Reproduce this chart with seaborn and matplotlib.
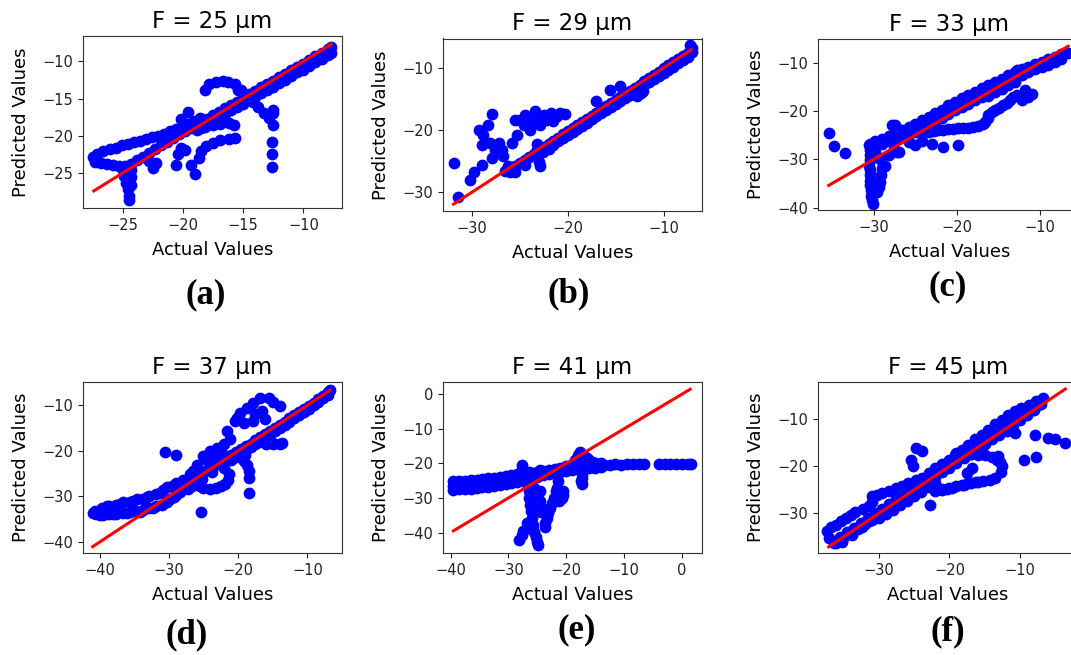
import matplotlib
matplotlib.use("Agg")
import matplotlib.pyplot as plt
import seaborn as sns

# ---------------- data ----------------
titles = ["F = 25 µm", "F = 29 µm", "F = 33 µm", "F = 37 µm", "F = 41 µm", "F = 45 µm"]
tags = ["(a)", "(b)", "(c)", "(d)", "(e)", "(f)"]
x_label = "Actual Values"
y_label = "Predicted Values"

a_points = [
    # upper arm of the loop
    (-27.5, -22.9), (-27.1, -22.4), (-26.6, -22.1), (-26.1, -21.8), (-25.6, -21.6), (-25.1, -21.3),
    (-24.6, -21.1), (-24.1, -20.9), (-23.6, -20.7), (-23.1, -20.4), (-22.6, -20.2), (-22.1, -20.0),
    (-21.6, -19.7), (-21.1, -19.4), (-20.6, -19.1), (-20.1, -18.8), (-19.6, -18.4), (-19.1, -18.0),
    (-18.6, -17.6),
    # lower arm
    (-27.3, -23.5), (-26.8, -23.7), (-26.3, -23.8), (-25.8, -23.9), (-25.3, -24.0), (-24.8, -24.0),
    # loop diagonal
    (-24.3, -23.8), (-23.8, -23.3), (-23.3, -22.8), (-22.8, -22.3), (-22.3, -21.8), (-21.8, -21.3),
    (-21.3, -20.8), (-20.8, -20.3), (-20.3, -19.8), (-19.8, -19.4), (-19.3, -19.0),
    # main band, upper row
    (-18.5, -18.2), (-18.0, -17.7), (-17.5, -17.2), (-17.0, -16.8), (-16.5, -16.3), (-16.0, -15.8),
    (-15.5, -15.4), (-15.0, -14.9), (-14.5, -14.4), (-14.0, -14.0), (-13.5, -13.5), (-13.0, -13.0),
    (-12.5, -12.6), (-12.0, -12.1), (-11.5, -11.7), (-11.0, -11.2), (-10.5, -10.7), (-10.0, -10.3),
    (-9.5, -9.8), (-9.0, -9.3), (-8.5, -8.9), (-8.0, -8.4), (-7.7, -8.1),
    # main band, lower row
    (-18.5, -19.0), (-18.0, -18.5), (-17.5, -18.0), (-17.0, -17.6), (-16.5, -17.1), (-16.0, -16.6),
    (-15.5, -16.2), (-15.0, -15.7), (-14.5, -15.2), (-14.0, -14.8), (-13.5, -14.3), (-13.0, -13.8),
    (-12.5, -13.4), (-12.0, -12.9), (-11.5, -12.5), (-11.0, -12.0), (-10.5, -11.5), (-10.0, -11.1),
    (-9.5, -10.6), (-9.0, -10.1), (-8.5, -9.7), (-8.0, -9.2), (-7.7, -8.9),
    # drop near -24.5
    (-25.0, -24.6), (-24.9, -25.4), (-24.7, -26.3), (-24.6, -27.2), (-24.5, -28.1), (-24.45, -28.6),
    (-24.3, -24.6), (-24.3, -25.6), (-24.3, -26.6),
    # small clusters
    (-22.8, -23.4), (-22.5, -24.3), (-22.2, -23.7), (-20.4, -22.5), (-20.2, -21.7), (-19.8, -21.9),
    (-20.6, -23.9), (-19.3, -23.9), (-19.0, -25.1), (-19.6, -16.8), (-20.2, -17.8),
    # top arc
    (-18.2, -13.8), (-17.8, -13.1), (-17.3, -12.8), (-16.7, -12.6), (-16.3, -12.8), (-15.7, -13.1),
    (-15.4, -13.8),
    # middle arc
    (-18.8, -19.2), (-18.2, -18.8), (-17.5, -18.5), (-16.9, -18.4), (-16.2, -18.3), (-15.8, -18.5),
    # lower arc
    (-18.7, -23.0), (-18.5, -22.1), (-18.1, -21.4), (-17.5, -21.0), (-16.9, -20.6), (-16.2, -20.4),
    (-15.7, -20.3),
    # right descending branch
    (-15.2, -13.9), (-14.6, -14.5), (-14.2, -15.4), (-13.8, -16.1), (-13.3, -16.9), (-12.9, -17.6),
    (-12.5, -18.5),
    # column near -12.5
    (-12.6, -13.5), (-12.5, -16.5), (-12.5, -17.0), (-12.6, -20.8), (-12.6, -22.5), (-12.6, -24.2),
]

b_points = [
    # scattered on the left
    (-31.9, -25.3), (-31.4, -30.8), (-30.2, -28.0), (-29.8, -26.8), (-28.9, -25.6), (-29.2, -20.0),
    (-28.8, -20.8), (-28.3, -19.2), (-27.9, -17.4), (-28.9, -22.4), (-28.1, -22.1), (-27.2, -22.1),
    (-27.6, -23.2), (-26.9, -23.2), (-27.9, -24.5), (-26.7, -24.2), (-26.2, -25.8), (-26.0, -26.8),
    (-25.8, -22.1), (-25.3, -20.8), (-25.5, -18.4), (-25.0, -18.4), (-24.4, -17.6), (-24.6, -19.2),
    (-23.9, -20.0), (-23.4, -17.0), (-23.0, -17.8), (-22.9, -19.2), (-22.5, -17.6), (-22.2, -18.4),
    (-21.7, -17.3), (-21.1, -17.8), (-20.8, -17.3), (-20.3, -17.5), (-21.5, -18.6), (-23.6, -18.6),
    # blob near -23
    (-23.2, -22.2), (-23.2, -23.2), (-23.1, -24.2), (-23.0, -25.1), (-22.9, -25.7), (-22.6, -23.6),
    (-22.3, -22.8),
    # main band on the line
    (-26.5, -26.6), (-26.0, -26.3), (-25.5, -25.8), (-25.0, -25.3), (-24.5, -24.8), (-24.0, -24.3),
    (-23.5, -23.8), (-23.0, -23.2), (-22.5, -22.7), (-22.0, -22.2), (-21.5, -21.7), (-21.0, -21.2),
    (-20.5, -20.7), (-20.0, -20.2), (-19.5, -19.7), (-19.0, -19.2), (-18.5, -18.7), (-18.0, -18.2),
    (-17.5, -17.7), (-17.0, -17.2), (-16.5, -16.7), (-16.0, -16.2), (-15.5, -15.7), (-15.0, -15.2),
    (-14.5, -14.7), (-14.0, -14.2), (-13.5, -13.7), (-13.0, -13.2), (-12.5, -12.7), (-12.0, -12.2),
    (-11.5, -11.6), (-11.0, -11.1), (-10.5, -10.6), (-10.0, -10.1), (-9.5, -9.6), (-9.0, -9.1),
    (-8.5, -8.6), (-8.0, -8.1), (-7.5, -7.6), (-7.0, -6.9),
    # row just below the line
    (-25.5, -26.8), (-24.5, -25.6), (-22.0, -23.0), (-21.5, -22.4), (-21.0, -21.8), (-20.5, -21.3),
    (-20.0, -20.8), (-19.5, -20.3), (-19.0, -19.8), (-18.5, -19.3), (-18.0, -18.8), (-17.5, -18.3),
    (-17.0, -17.8), (-16.5, -17.3), (-16.0, -16.8), (-15.5, -16.3), (-15.0, -15.8), (-14.5, -15.3),
    (-14.0, -14.8), (-13.5, -14.3), (-13.0, -13.8), (-12.5, -13.3), (-12.0, -12.8),
    (-11.5, -12.3), (-11.0, -11.8), (-10.5, -11.3), (-10.0, -10.8), (-9.5, -10.3), (-9.0, -9.8),
    (-8.5, -9.3), (-8.0, -8.8), (-7.5, -8.2), (-7.0, -7.5), (-7.2, -6.4),
    # blobs around -14
    (-17.0, -15.4), (-15.6, -13.6), (-14.5, -13.0), (-12.4, -14.1), (-12.8, -14.6), (-13.5, -14.4),
    (-12.2, -13.8),
]

c_points = [
    # outliers on the left
    (-35.4, -24.5), (-34.8, -27.3), (-33.5, -28.7),
    # vertical cluster near -30
    (-30.6, -27.1), (-30.5, -29.2), (-30.6, -31.3), (-30.5, -33.3), (-30.4, -35.4), (-30.3, -37.5),
    (-30.1, -39.2), (-30.5, -28.1), (-30.5, -30.2), (-30.5, -32.3), (-30.4, -34.4), (-30.3, -36.4),
    (-30.2, -38.4), (-29.6, -27.1), (-29.2, -29.9), (-29.0, -31.9), (-29.2, -34.7), (-29.6, -36.8),
    (-28.6, -31.3), (-28.2, -29.2), (-27.6, -27.8), (-27.2, -28.5), (-29.8, -28.5), (-29.1, -33.3),
    (-29.4, -35.8),
    # main band, row 1
    (-30.4, -26.8), (-29.8, -26.3), (-29.0, -25.7), (-28.2, -25.2), (-27.4, -24.7), (-26.6, -24.0),
    (-25.8, -23.3), (-25.0, -22.6), (-24.2, -21.9), (-23.4, -21.2), (-22.6, -20.5), (-21.8, -19.7),
    (-21.0, -18.8), (-20.2, -18.1), (-19.4, -17.4), (-18.6, -16.7), (-17.8, -16.0), (-17.0, -15.3),
    (-16.2, -14.6), (-15.4, -13.9), (-14.6, -13.3), (-13.8, -12.6), (-13.0, -12.0), (-12.2, -11.4),
    (-11.4, -10.8), (-10.6, -10.3), (-9.8, -9.8), (-9.0, -9.3), (-8.2, -8.8), (-7.4, -8.3),
    (-6.6, -7.9),
    # main band, row 2
    (-29.0, -26.8), (-28.2, -26.3), (-27.4, -25.8), (-26.6, -25.1), (-25.8, -24.4), (-25.0, -23.7),
    (-24.2, -23.0), (-23.4, -22.3), (-22.6, -21.6), (-21.8, -20.8), (-21.0, -19.9), (-20.2, -19.2),
    (-19.4, -18.5), (-18.6, -17.8), (-17.8, -17.1), (-17.0, -16.4), (-16.2, -15.7), (-15.4, -15.0),
    (-14.6, -14.4), (-13.8, -13.7), (-13.0, -13.1), (-12.2, -12.5), (-11.4, -11.9), (-10.6, -11.4),
    (-9.8, -10.9), (-9.0, -10.4), (-8.2, -9.9), (-7.4, -9.2),
    # main band, row 3
    (-24.2, -24.1), (-23.4, -23.4), (-22.6, -22.7), (-21.8, -21.5), (-21.0, -20.6), (-20.2, -19.9),
    (-19.4, -19.2), (-18.6, -18.5), (-17.8, -17.8), (-17.0, -17.1), (-16.2, -16.8),
    (-15.4, -16.0), (-14.6, -15.4), (-13.8, -14.7), (-13.0, -14.0),
    # lower band and its rise
    (-23.4, -24.3), (-22.8, -24.1), (-22.2, -24.0), (-21.6, -23.9), (-21.0, -23.8), (-20.4, -23.7),
    (-19.8, -23.6), (-19.2, -23.5), (-18.6, -23.5), (-18.0, -23.3), (-17.4, -23.1), (-16.9, -22.6),
    (-16.6, -22.2), (-16.3, -21.4), (-16.2, -20.9), (-15.8, -20.3), (-15.4, -19.8), (-14.9, -19.3),
    (-14.4, -18.8), (-14.0, -18.3), (-13.6, -17.8), (-13.2, -17.2), (-12.8, -16.7), (-12.2, -17.8),
    (-11.4, -17.1), (-11.8, -15.7), (-11.0, -16.5), (-12.8, -11.5),
    # blobs below the band
    (-25.0, -27.1), (-25.8, -26.4), (-24.2, -26.3), (-23.0, -26.8), (-21.6, -27.4), (-19.9, -27.0),
    (-25.0, -24.3), (-27.0, -28.5), (-27.8, -22.8), (-27.4, -22.8),
]

d_points = [
    # left tail
    (-41.0, -33.6), (-40.0, -34.0), (-39.0, -32.2), (-38.1, -33.8), (-37.1, -31.6), (-36.1, -33.6),
    (-35.2, -30.9), (-34.2, -33.3), (-33.2, -30.2), (-32.3, -32.5), (-31.3, -29.2), (-30.2, -28.0),
    (-30.3, -31.2), (-28.9, -29.6), (-27.4, -27.0), (-28.4, -27.3),
    (-40.5, -33.9), (-39.5, -34.0), (-38.6, -33.9), (-37.6, -33.8), (-36.6, -33.7), (-35.6, -33.5),
    (-34.7, -33.2), (-33.7, -32.9), (-32.8, -32.6), (-31.8, -32.2), (-31.0, -31.8), (-29.8, -30.6),
    (-29.3, -30.1), (-28.4, -29.0), (-27.9, -28.4),
    (-40.6, -33.2), (-39.6, -32.6), (-38.6, -32.0), (-37.6, -31.9), (-36.6, -31.3), (-35.6, -31.2),
    (-34.6, -30.6), (-33.7, -30.5), (-32.8, -29.9), (-31.8, -29.5), (-30.8, -28.6), (-29.6, -27.6),
    (-28.9, -27.0), (-27.9, -26.3),
    # main band row 1
    (-28.0, -28.2), (-27.3, -27.5), (-26.6, -26.6), (-25.9, -25.8), (-25.2, -25.0), (-24.5, -24.3),
    (-23.8, -23.6), (-23.1, -22.9), (-22.4, -22.3), (-21.7, -21.6), (-21.0, -20.9), (-20.3, -20.3),
    (-19.6, -19.7), (-18.9, -19.0), (-18.2, -18.4), (-17.5, -17.7), (-16.8, -17.0), (-16.1, -16.4),
    (-15.4, -15.7), (-14.7, -15.0), (-14.0, -14.3), (-13.3, -13.6), (-12.6, -12.9), (-11.9, -12.2),
    (-11.2, -11.5), (-10.5, -10.8), (-9.8, -10.1), (-9.1, -9.4), (-8.4, -8.7), (-7.7, -8.0),
    (-7.0, -7.2), (-6.7, -6.6),
    # main band row 2
    (-27.3, -28.3), (-26.6, -27.6), (-25.2, -26.1), (-23.8, -24.7), (-21.0, -22.0), (-20.3, -21.3),
    (-19.6, -20.6), (-18.9, -19.9), (-18.2, -19.2), (-17.5, -18.5), (-16.8, -17.8), (-16.1, -17.1),
    (-15.4, -16.4), (-14.7, -15.7), (-14.0, -15.0), (-13.3, -14.3), (-12.6, -13.6), (-11.9, -12.9),
    (-11.2, -12.2), (-10.5, -11.5), (-9.8, -10.8), (-9.1, -10.0), (-8.4, -9.3), (-7.7, -8.5),
    (-7.0, -7.7),
    # ring
    (-27.0, -25.0), (-26.5, -26.5), (-25.5, -27.8), (-24.0, -28.3), (-22.5, -27.8), (-21.5, -26.5),
    (-21.3, -25.0), (-22.0, -23.8), (-25.0, -28.2), (-23.2, -28.2), (-21.9, -27.2), (-26.0, -27.2),
    # above the line, middle
    (-26.0, -23.0), (-26.5, -24.5), (-25.0, -21.2), (-24.1, -20.1), (-23.1, -19.4), (-22.1, -18.6),
    (-24.5, -22.0), (-23.5, -21.0), (-22.5, -20.0), (-21.6, -15.7), (-21.2, -17.5),
    # S shape at the top
    (-20.4, -13.5), (-19.7, -11.7), (-18.7, -10.6), (-17.8, -9.5), (-16.8, -8.5), (-15.6, -8.5),
    (-14.9, -9.3), (-14.0, -10.2), (-16.6, -11.3), (-17.5, -12.0), (-17.8, -13.5), (-19.2, -13.9),
    (-20.2, -12.8), (-16.1, -13.1),
    # right, below the line
    (-17.0, -18.0), (-16.0, -18.5), (-15.0, -18.6), (-14.0, -18.5), (-13.6, -18.3), (-14.9, -18.3),
    (-15.9, -17.9),
    # drop near -18.5
    (-19.5, -21.5), (-19.0, -20.8), (-19.2, -22.3), (-18.7, -23.0), (-18.5, -24.5), (-18.5, -26.0),
    (-18.4, -29.2),
    # isolated
    (-30.6, -20.2), (-28.9, -20.8), (-25.4, -33.3),
]

e_points = [
    # thick band, centre row
    (-39.5, -26.4), (-38.5, -26.3), (-37.5, -26.2), (-36.5, -26.1), (-35.5, -25.9), (-34.5, -25.7),
    (-33.5, -25.5), (-32.5, -25.3), (-31.5, -25.1), (-30.5, -24.9), (-29.5, -24.6), (-28.5, -24.3),
    (-27.5, -24.0), (-26.5, -23.6), (-25.5, -23.2), (-24.5, -22.8), (-23.5, -22.5), (-22.5, -22.2),
    (-21.5, -21.9), (-20.5, -21.6), (-19.5, -21.3), (-18.5, -21.1), (-17.5, -20.9), (-16.5, -20.7),
    (-15.5, -20.6), (-14.5, -20.5), (-13.5, -20.4),
    # thick band, upper rows
    (-39.5, -25.2), (-38.5, -25.1), (-37.5, -25.0), (-36.5, -24.9), (-35.5, -24.7), (-34.5, -24.5),
    (-33.5, -24.3), (-32.5, -24.1), (-31.5, -23.9), (-30.5, -23.7), (-29.5, -23.4), (-28.5, -23.1),
    (-26.5, -22.5), (-24.5, -21.8),
    (-39.0, -25.8), (-38.0, -25.7), (-37.0, -25.6), (-36.0, -25.5), (-35.0, -25.3), (-34.0, -25.1),
    (-33.0, -24.9), (-32.0, -24.7), (-31.0, -24.5), (-30.0, -24.2), (-29.0, -23.9), (-28.0, -23.6),
    (-27.0, -23.2), (-26.0, -22.8), (-25.0, -22.4), (-24.0, -22.1), (-23.0, -21.8), (-22.0, -21.5),
    (-21.0, -21.2), (-20.0, -20.9), (-19.0, -20.6), (-18.0, -20.4), (-17.0, -20.2), (-16.0, -20.0),
    (-15.0, -19.9), (-14.0, -19.9),
    # thick band, lower rows
    (-39.5, -27.6), (-38.5, -27.5), (-37.5, -27.4), (-36.5, -27.3), (-35.5, -27.1), (-34.5, -26.9),
    (-33.5, -26.7), (-32.5, -26.5), (-31.5, -26.3), (-30.5, -26.1), (-29.5, -25.8), (-28.5, -25.5),
    (-27.5, -25.2), (-26.5, -24.8),
    (-39.0, -27.0), (-38.0, -26.9), (-37.0, -26.8), (-36.0, -26.7), (-35.0, -26.5), (-34.0, -26.3),
    (-33.0, -26.1), (-32.0, -25.9), (-31.0, -25.7), (-30.0, -25.4), (-29.0, -25.1), (-28.0, -24.8),
    (-25.0, -23.8), (-24.0, -23.5), (-23.0, -23.2), (-22.0, -22.9), (-21.0, -22.5), (-20.0, -22.2),
    (-19.0, -21.9), (-18.0, -21.7), (-17.0, -21.5), (-16.0, -21.3), (-15.0, -21.2), (-14.0, -21.0),
    # dotted tail on the right
    (-12.5, -20.4), (-11.5, -20.3), (-10.5, -20.4), (-9.5, -20.3), (-8.5, -20.3), (-7.5, -20.2),
    (-6.5, -20.3), (-4.0, -20.2), (-3.0, -20.2), (-2.0, -20.3), (-1.0, -20.2), (0.0, -20.2),
    (1.0, -20.3), (1.5, -20.2),
    # spike near -27.7
    (-27.7, -20.6), (-27.7, -21.8), (-27.5, -22.8),
    # bump near -17
    (-17.6, -16.6), (-17.9, -17.6), (-17.0, -17.8), (-16.5, -18.5), (-16.0, -19.0), (-18.5, -19.0),
    (-17.3, -24.3), (-17.3, -26.0), (-17.4, -25.0), (-17.3, -23.0), (-16.0, -20.0), (-18.0, -19.8),
    (-15.5, -19.5), (-16.5, -19.8), (-17.5, -19.5), (-18.5, -20.2), (-15.0, -20.0),
    # V structure, left arm
    (-26.8, -24.3), (-26.6, -26.2), (-26.5, -28.1), (-26.4, -30.0), (-26.3, -32.0), (-26.1, -33.9),
    (-26.0, -35.8), (-25.8, -37.8), (-25.6, -39.7), (-25.3, -41.2), (-25.1, -42.6), (-24.8, -43.5),
    (-25.5, -27.0), (-25.0, -29.0), (-24.6, -31.0), (-24.5, -32.0), (-24.3, -34.0), (-24.6, -28.1),
    # V structure, right arm
    (-21.4, -25.2), (-21.6, -27.0), (-21.7, -28.1), (-22.2, -30.1), (-22.5, -31.5), (-22.8, -33.0),
    (-23.1, -34.4), (-23.4, -35.8), (-23.7, -37.3), (-23.7, -38.3), (-21.4, -28.6), (-20.8, -30.1),
    (-21.0, -29.2), (-20.5, -29.0), (-20.6, -28.0), (-21.2, -31.0),
    # lower left pieces
    (-26.8, -37.3), (-27.4, -39.5), (-27.7, -40.7), (-28.1, -42.1), (-26.6, -38.5),
]

f_points = [
    # lower-left loop and upper arm
    (-37.3, -33.8), (-37.1, -35.3), (-36.4, -36.3), (-35.2, -36.0), (-33.8, -34.5), (-32.4, -32.8),
    (-31.4, -31.7), (-36.8, -32.9), (-36.1, -32.4), (-35.4, -31.7), (-34.7, -31.0), (-34.0, -30.3),
    (-33.3, -29.6), (-32.3, -29.0), (-31.4, -28.5), (-30.9, -27.5), (-30.9, -26.4), (-30.2, -26.0),
    (-29.5, -25.7), (-28.6, -25.2), (-27.6, -24.6), (-26.7, -24.1), (-25.8, -23.6), (-24.8, -23.0),
    (-23.9, -22.5), (-22.9, -21.4), (-22.0, -20.4), (-21.0, -19.5), (-20.1, -18.6), (-19.2, -17.5),
    (-18.2, -16.5), (-17.3, -15.4), (-16.4, -14.3), (-15.4, -13.3), (-14.5, -12.2), (-13.5, -11.1),
    (-12.6, -10.1), (-11.7, -9.2), (-10.7, -8.3), (-9.8, -7.6), (-8.8, -6.9), (-7.8, -6.1),
    (-6.7, -5.5),
    # along the line
    (-36.0, -36.2), (-35.0, -35.3), (-34.0, -34.3), (-33.0, -33.3), (-32.0, -32.3), (-31.0, -31.3),
    (-30.0, -30.3), (-29.0, -29.3), (-28.0, -28.3), (-27.0, -27.3), (-26.0, -26.3), (-25.0, -25.3),
    (-24.0, -24.3), (-23.0, -23.3), (-22.0, -22.3), (-21.0, -21.3), (-20.0, -20.3), (-19.0, -19.3),
    (-18.0, -18.3), (-17.0, -17.3), (-16.0, -16.3), (-15.0, -15.3), (-14.0, -14.3), (-13.0, -13.3),
    (-12.0, -12.3), (-11.0, -11.3), (-10.0, -10.2), (-9.0, -9.1), (-8.0, -8.0), (-7.0, -6.8),
    (-35.5, -35.0), (-34.5, -34.0), (-33.5, -33.0), (-32.5, -32.0), (-31.5, -31.0), (-30.5, -30.0),
    (-29.5, -29.0), (-28.5, -28.0), (-27.5, -27.0), (-26.5, -26.0), (-25.5, -25.0), (-24.5, -24.0),
    (-23.5, -23.0), (-22.5, -22.0), (-21.5, -21.0), (-20.5, -20.0), (-19.5, -19.0), (-18.5, -18.0),
    (-17.5, -17.0), (-16.5, -16.0), (-15.5, -15.0), (-14.5, -14.0), (-13.5, -13.0), (-12.5, -12.0),
    (-11.5, -11.0), (-10.5, -10.0), (-9.5, -9.0), (-8.5, -8.0), (-7.5, -7.0),
    # below the line
    (-30.0, -31.0), (-28.0, -29.2), (-26.0, -27.3), (-24.0, -25.4), (-22.0, -23.5),
    (-29.0, -30.1), (-27.0, -28.2), (-25.0, -26.3), (-23.0, -24.4),
    # scattered
    (-24.8, -16.1), (-23.9, -16.8), (-25.5, -18.6), (-25.1, -20.0), (-22.7, -28.2), (-19.7, -24.6),
    (-18.2, -23.9), (-17.3, -23.6), (-15.2, -23.2), (-13.5, -22.5), (-14.2, -22.9), (-16.3, -23.4),
    (-21.0, -25.0), (-20.4, -24.8), (-17.5, -21.4), (-16.8, -20.4), (-13.1, -17.9), (-12.6, -20.0),
    (-12.7, -21.2), (-12.9, -19.0), (-10.7, -12.9), (-11.9, -12.6), (-7.9, -13.3), (-9.5, -18.6),
    (-7.8, -18.1), (-6.0, -14.0), (-5.1, -14.3), (-3.7, -15.0),
    # arc below the line
    (-19.0, -17.2), (-18.0, -17.3), (-17.0, -17.4), (-16.0, -17.5), (-15.0, -17.7), (-14.0, -18.0),
    (-13.3, -18.6),
    # lower band
    (-22.0, -25.2), (-21.0, -24.9), (-20.0, -24.6), (-19.0, -24.2), (-18.0, -23.9), (-17.0, -23.6),
    (-16.0, -23.4),
]

# ideal (y = x) reference line end points per panel
a_line = [-27.4, -7.7]
b_line = [-31.9, -7.1]
c_line = [-35.4, -6.6]
d_line = [-41.0, -6.7]
e_line = [-39.5, 1.4]
f_line = [-37.1, -3.6]

a_xticks, a_yticks = [-25, -20, -15, -10], [-25, -20, -15, -10]
b_xticks, b_yticks = [-30, -20, -10], [-30, -20, -10]
c_xticks, c_yticks = [-30, -20, -10], [-40, -30, -20, -10]
d_xticks, d_yticks = [-40, -30, -20, -10], [-40, -30, -20, -10]
e_xticks, e_yticks = [-40, -30, -20, -10, 0], [-40, -30, -20, -10, 0]
f_xticks, f_yticks = [-30, -20, -10], [-30, -20, -10]

# ---------------- layout ----------------
W, H = 1071, 655
fig = plt.figure(figsize=(W / 100, H / 100), dpi=100)

panels = [
    # points, line, xticks, yticks, xlim, ylim, (left, top, width, height) px, tag (x, y) px
    (a_points, a_line, a_xticks, a_yticks, (-28.3, -6.8), (-29.7, -6.6), (83, 36, 259, 172), (206, 295)),
    (b_points, b_line, b_xticks, b_yticks, (-33.0, -6.0), (-33.0, -5.3), (443, 38.5, 259, 172.5), (569, 294)),
    (c_points, c_line, c_xticks, c_yticks, (-36.7, -5.05), (-40.5, -5.1), (818, 39, 263, 171), (948, 287)),
    (d_points, d_line, d_xticks, d_yticks, (-42.4, -5.0), (-42.4, -4.9), (83, 382, 259, 171), (187, 635)),
    (e_points, e_line, e_xticks, e_yticks, (-41.3, 3.45), (-45.9, 3.5), (443, 382, 259, 171), (577, 630)),
    (f_points, f_line, f_xticks, f_yticks, (-38.6, -1.8), (-38.4, -2.1), (818, 382, 260, 171), (948, 632)),
]

for i, (pts, line, xt, yt, xl, yl, box, tagpos) in enumerate(panels):
    l, t, w, h = box
    ax = fig.add_axes([l / W, 1 - (t + h) / H, w / W, h / H])
    xs = [p[0] for p in pts]
    ys = [p[1] for p in pts]
    sns.scatterplot(x=xs, y=ys, ax=ax, color="blue", s=72, linewidth=0, alpha=1.0, zorder=2)
    sns.lineplot(x=line, y=line, ax=ax, color="red", linewidth=2.2, zorder=3)
    ax.set_xlim(*xl)
    ax.set_ylim(*yl)
    ax.set_xticks(xt)
    ax.set_yticks(yt)
    ax.tick_params(labelsize=10.5, colors="#222222")
    ax.set_title(titles[i], fontsize=16.5, pad=6)
    ax.set_xlabel(x_label, fontsize=13)
    ax.set_ylabel(y_label, fontsize=13)
    ax.xaxis.set_label_coords(0.5, -33 / h)
    ax.yaxis.set_label_coords(-53 / w, 0.5)
    for sp in ax.spines.values():
        sp.set_color("#333333")
    fig.text(tagpos[0] / W, 1 - tagpos[1] / H, tags[i], ha="center", va="center",
             fontsize=25, fontweight="bold", family="Liberation Serif")

fig.savefig("out.png", dpi=100)
